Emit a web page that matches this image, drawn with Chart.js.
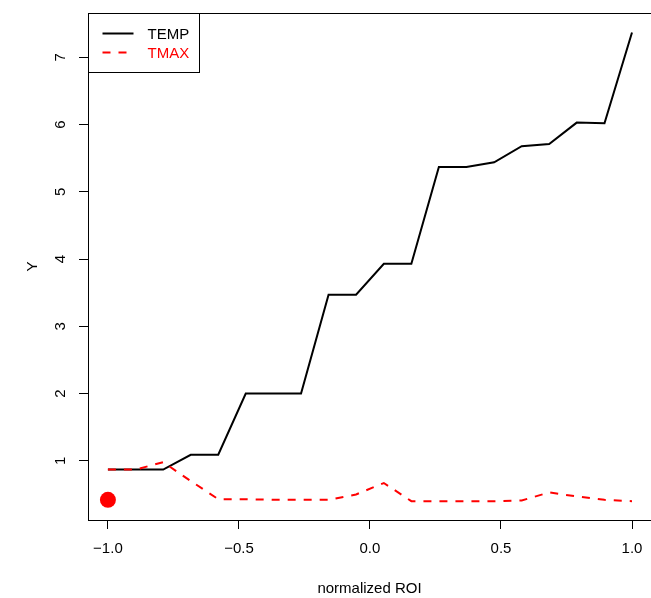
<!DOCTYPE html>
<html>
<head>
<meta charset="utf-8">
<script src="https://cdn.jsdelivr.net/npm/chart.js@4/dist/chart.umd.min.js"></script>
<style>
  html, body { margin: 0; padding: 0; background: #fff; }
</style>
</head>
<body>
<canvas id="roiChart" width="651" height="598"></canvas>
<script>
// values
const roiValues = [-1, -0.895, -0.789, -0.684, -0.579, -0.474, -0.368, -0.263, -0.158, -0.053,
                   0.053, 0.158, 0.263, 0.368, 0.474, 0.579, 0.684, 0.789, 0.895, 1];
const tempValues = [0.87, 0.87, 0.87, 1.09, 1.09, 2.0, 2.0, 2.0, 3.47, 3.47,
                    3.93, 3.93, 5.37, 5.37, 5.44, 5.68, 5.71, 6.03, 6.02, 7.37];
const tmaxValues = [0.87, 0.87, 0.98, 0.70, 0.43, 0.43, 0.42, 0.42, 0.42, 0.50,
                    0.67, 0.40, 0.40, 0.40, 0.40, 0.41, 0.53, 0.47, 0.42, 0.40];
const markerX = [-1];
const markerY = [0.42];
const seriesNames = ['TEMP', 'TMAX'];
const xTicks = [-1, -0.5, 0, 0.5, 1];
const yTicks = [1, 2, 3, 4, 5, 6, 7];

const FONT = 'Liberation Sans, Arial, Helvetica, sans-serif';

function toPoints(xs, ys) {
    return xs.map((x, i) => ({ x: x, y: ys[i] }));
}

function fmtX(v) {
    return Number(v).toFixed(1).replace('-', '\u2212');
}

// no extra label margins, the plot region is fixed
function noPadding(s) {
    s.paddingTop = 0;
    s.paddingBottom = 0;
    s.paddingLeft = 0;
    s.paddingRight = 0;
}

// box around the plot region, like R's bty="o"
const plotBox = {
    id: 'plotBox',
    afterDraw(chart) {
        const a = chart.chartArea;
        const ctx = chart.ctx;
        ctx.save();
        ctx.strokeStyle = '#000';
        ctx.lineWidth = 1;
        ctx.strokeRect(Math.round(a.left) + 0.5, Math.round(a.top) + 0.5,
                       Math.round(a.right - a.left) + 2, Math.round(a.bottom - a.top));
        ctx.restore();
    }
};

// boxed legend in the top-left corner
const boxLegend = {
    id: 'boxLegend',
    afterDraw(chart) {
        const a = chart.chartArea;
        const ctx = chart.ctx;
        const x0 = Math.round(a.left) + 0.5;
        const y0 = Math.round(a.top) + 0.5;
        ctx.save();
        ctx.fillStyle = '#fff';
        ctx.fillRect(x0, y0, 111, 59);
        ctx.strokeStyle = '#000';
        ctx.lineWidth = 1;
        ctx.strokeRect(x0, y0, 111, 59);

        const rows = [
            { name: seriesNames[0], color: '#000', dash: [], y: y0 + 20 },
            { name: seriesNames[1], color: '#ff0000', dash: [8, 8], y: y0 + 39 }
        ];
        ctx.font = '15px ' + FONT;
        ctx.textBaseline = 'middle';
        ctx.textAlign = 'left';
        rows.forEach(r => {
            ctx.beginPath();
            ctx.setLineDash(r.dash);
            ctx.strokeStyle = r.color;
            ctx.lineWidth = 2;
            ctx.moveTo(x0 + 14, r.y);
            ctx.lineTo(x0 + 45, r.y);
            ctx.stroke();
            ctx.setLineDash([]);
            ctx.fillStyle = r.color;
            ctx.fillText(r.name, x0 + 59, r.y + 1);
        });
        ctx.restore();
    }
};

function renderChart() {
    const ctx = document.getElementById('roiChart').getContext('2d');
    new Chart(ctx, {
        type: 'line',
        data: {
            datasets: [
                {
                    label: seriesNames[0],
                    data: toPoints(roiValues, tempValues),
                    borderColor: '#000',
                    borderWidth: 2,
                    pointRadius: 0,
                    tension: 0,
                    fill: false,
                    order: 3
                },
                {
                    label: seriesNames[1],
                    data: toPoints(roiValues, tmaxValues),
                    borderColor: '#ff0000',
                    borderWidth: 2,
                    borderDash: [8, 8],
                    pointRadius: 0,
                    tension: 0,
                    fill: false,
                    order: 2
                },
                {
                    label: 'marker',
                    data: toPoints(markerX, markerY),
                    showLine: false,
                    pointRadius: 8,
                    pointBackgroundColor: '#ff0000',
                    pointBorderColor: '#ff0000',
                    pointBorderWidth: 0,
                    order: 1
                }
            ]
        },
        options: {
            responsive: false,
            animation: false,
            devicePixelRatio: 1,
            layout: { autoPadding: false, padding: { top: 13, right: 0, left: 0, bottom: 0 } },
            plugins: {
                legend: { display: false },
                tooltip: { enabled: false }
            },
            scales: {
                x: {
                    type: 'linear',
                    min: -1.076,
                    max: 1.0725,
                    afterBuildTicks: s => { s.ticks = xTicks.map(v => ({ value: v })); },
                    afterFit: s => { s.height = 78; noPadding(s); },
                    grid: { drawOnChartArea: false, drawTicks: true, tickLength: 9, color: '#000' },
                    border: { display: false },
                    ticks: {
                        color: '#000',
                        font: { family: FONT, size: 15 },
                        padding: 11,
                        maxRotation: 0,
                        callback: v => fmtX(v)
                    },
                    title: {
                        display: true,
                        text: 'normalized ROI',
                        color: '#000',
                        font: { family: FONT, size: 15 },
                        padding: { top: 0, bottom: 0 }
                    }
                },
                y: {
                    type: 'linear',
                    min: 0.12,
                    max: 7.66,
                    afterBuildTicks: s => { s.ticks = yTicks.map(v => ({ value: v })); },
                    afterFit: s => { s.width = 88; noPadding(s); },
                    grid: { drawOnChartArea: false, drawTicks: true, tickLength: 9, color: '#000' },
                    border: { display: false },
                    ticks: {
                        color: '#000',
                        font: { family: FONT, size: 15 },
                        padding: 14,
                        minRotation: 90,
                        maxRotation: 90,
                        crossAlign: 'center',
                        callback: v => String(v)
                    },
                    title: {
                        display: true,
                        text: 'Y',
                        color: '#000',
                        font: { family: FONT, size: 15 },
                        padding: { top: 24, bottom: 0 }
                    }
                }
            }
        },
        plugins: [plotBox, boxLegend]
    });
}

document.addEventListener('DOMContentLoaded', renderChart);
</script>
</body>
</html>
